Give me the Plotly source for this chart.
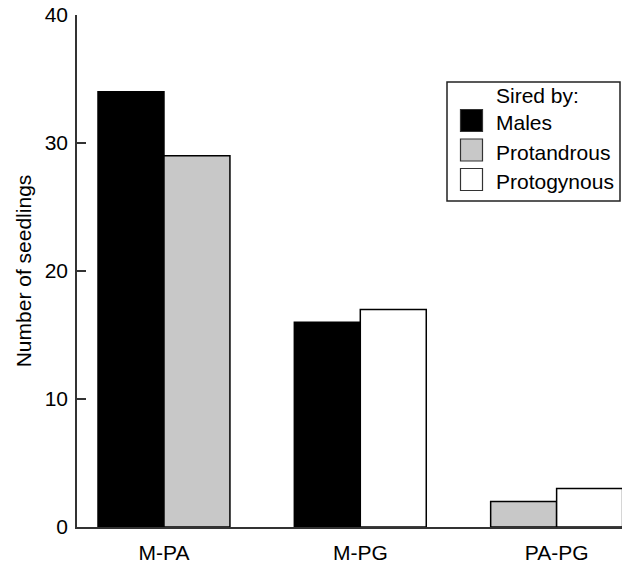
import plotly.graph_objects as go

# ---- data ----
categories = ["M-PA", "M-PG", "PA-PG"]
series_names = ["Males", "Protandrous", "Protogynous"]
males = [34, 16, None]
protandrous = [29, None, 2]
protogynous = [None, 17, 3]
y_ticks = [0, 10, 20, 30, 40]
legend_title = "Sired by:"

# ---- style ----
FONT = "Liberation Sans, Arial, Helvetica, sans-serif"
FS = 21
colors = {"Males": "#000000", "Protandrous": "#c8c8c8", "Protogynous": "#ffffff"}
W = 0.336
offsets = {
    "Males": [-W, -W, -W],
    "Protandrous": [0, 0, -W],
    "Protogynous": [0, 0, 0],
}
values = {"Males": males, "Protandrous": protandrous, "Protogynous": protogynous}

fig = go.Figure()
for name in series_names:
    fig.add_trace(go.Bar(
        x=categories, y=values[name], name=name,
        width=W, offset=offsets[name],
        marker=dict(color=colors[name], line=dict(color="#000000", width=1.5)),
        showlegend=False,
    ))

# plot area geometry (pixels) for manual legend placement
L, R, T, B = 77, 2, 15, 36
PW, PH = 624 - L - R, 563 - T - B


def px(x):
    return (x - L) / PW


def py(y):
    return (563 - B - y) / PH


shapes = [dict(type="rect", xref="paper", yref="paper",
               x0=px(447), x1=px(620), y0=py(201), y1=py(82),
               line=dict(color="#222222", width=1.5), fillcolor="white", layer="above")]
annotations = [dict(xref="paper", yref="paper", x=px(494), y=py(95), text=legend_title,
                    showarrow=False, xanchor="left", yanchor="middle",
                    font=dict(family=FONT, size=FS, color="black"))]
row_centers = [120.5, 150, 179.5]
for name, cy in zip(series_names, row_centers):
    shapes.append(dict(type="rect", xref="paper", yref="paper",
                       x0=px(460.5), x1=px(482.5), y0=py(cy + 11), y1=py(cy - 11),
                       line=dict(color="#333333", width=1.2), fillcolor=colors[name], layer="above"))
    annotations.append(dict(xref="paper", yref="paper", x=px(494), y=py(cy + 2), text=name,
                            showarrow=False, xanchor="left", yanchor="middle",
                            font=dict(family=FONT, size=FS, color="black")))

fig.update_layout(
    width=624, height=563,
    margin=dict(l=L, r=R, t=T, b=B, pad=0),
    paper_bgcolor="white", plot_bgcolor="white",
    barmode="overlay",
    font=dict(family=FONT, size=FS, color="black"),
    shapes=shapes, annotations=annotations,
    xaxis=dict(range=[-0.443, 2.333], showline=True, linecolor="#333333", linewidth=1.5,
               ticks="", showgrid=False, zeroline=False, ticklabelstandoff=6, automargin=False,
               tickfont=dict(family=FONT, size=FS, color="black"), fixedrange=True),
    yaxis=dict(range=[0, 40], tickvals=y_ticks, showline=True, linecolor="#333333", linewidth=1.5,
               ticks="inside", ticklen=9, tickwidth=1.5, tickcolor="#333333", automargin=False,
               showgrid=False, zeroline=False, ticklabelstandoff=3,
               tickfont=dict(family=FONT, size=FS, color="black"),
               title=dict(text="Number of seedlings", standoff=7,
                          font=dict(family=FONT, size=FS, color="black"))),
)

fig.write_html("out.html", config={"displayModeBar": False},
               post_script="document.body.style.margin='0';document.body.style.overflow='hidden';")
